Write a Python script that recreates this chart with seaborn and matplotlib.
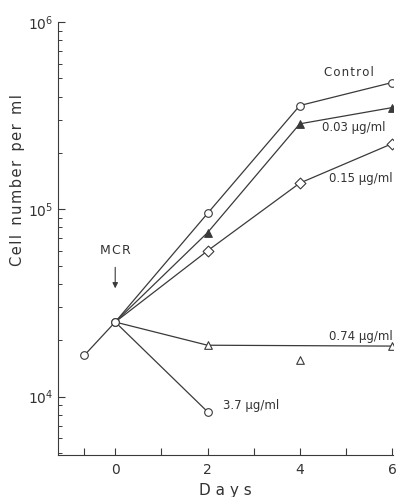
import matplotlib
matplotlib.use("Agg")
import matplotlib.pyplot as plt
import seaborn as sns
import numpy as np
import pandas as pd

# Data (days, cells per ml)
ctrl_days = [-0.67, 0, 2, 4, 6]
ctrl_vals = [16600, 25000, 95000, 358000, 475000]
d003_days = [0, 2, 4, 6]
d003_vals = [25000, 75000, 286000, 349000]
d015_days = [0, 2, 4, 6]
d015_vals = [25000, 60000, 138000, 224000]
d074_days = [0, 2, 6]
d074_vals = [25000, 18800, 18600]
d074_extra_days = [4]
d074_extra_vals = [15600]
d37_days = [0, 2]
d37_vals = [25000, 8300]

labels = ["Control", "0.03 μg/ml", "0.15 μg/ml", "0.74 μg/ml", "3.7 μg/ml"]

sns.set_style("ticks")
plt.rcParams['font.family'] = ['DejaVu Sans']

HAIR = "\u200a"
def spaced(s, gap=HAIR, word="  "):
    return word.join(gap.join(w) for w in s.split(" "))

fig = plt.figure(figsize=(4.01, 4.97), dpi=100)
ax = fig.add_axes([58/401, 1-455/497, 335/401, 433/497])

lc = "#3a3a3a"
lw = 0.9
ms = 5.5

def series(days, vals, marker, filled, skip_first=True):
    df = pd.DataFrame({"day": days, "cells": vals})
    sns.lineplot(data=df, x="day", y="cells", ax=ax, color=lc, linewidth=lw,
                 estimator=None, sort=False, legend=False)
    pts = df.iloc[1:] if skip_first else df
    sns.scatterplot(data=pts, x="day", y="cells", ax=ax, marker=marker, s=ms**2,
                    facecolor=(lc if filled else "white"), edgecolor=lc,
                    linewidth=0.8, zorder=5, legend=False)

series(ctrl_days, ctrl_vals, "o", False, skip_first=False)
series(d003_days, d003_vals, "^", True)
series(d015_days, d015_vals, "D", False)
series(d074_days, d074_vals, "^", False)
series(d37_days, d37_vals, "o", False)
sns.scatterplot(x=d074_extra_days, y=d074_extra_vals, ax=ax, marker="^", s=ms**2,
                facecolor="white", edgecolor=lc, linewidth=0.8, zorder=5, legend=False)
# redraw day-0 circle on top
sns.scatterplot(x=[0], y=[25000], ax=ax, marker="o", s=ms**2, facecolor="white",
                edgecolor=lc, linewidth=0.8, zorder=6, legend=False)

ax.set_yscale("log")
ax.set_xlim(-1.24, 6.02)
ax.set_ylim(4875, 1e6)
ax.set_xticks([-0.67, 0, 1, 2, 3, 4, 5, 6])
ax.set_xticklabels(["", "0", "", "2", "", "4", "", "6"])
ax.set_yticks([1e4, 1e5, 1e6])
ax.set_yticklabels([r"$10^4$", r"$10^5$", r"$10^6$"])
ax.tick_params(axis="both", which="major", direction="in", length=5, width=0.8,
               colors=lc, labelsize=10, labelcolor="#333333")
ax.tick_params(axis="y", which="minor", direction="in", length=3, width=0.7, colors=lc)
ax.tick_params(axis="x", pad=6)
for s in ["top", "right"]:
    ax.spines[s].set_visible(False)
for s in ["left", "bottom"]:
    ax.spines[s].set_color(lc)
    ax.spines[s].set_linewidth(0.8)

ax.set_xlabel(spaced("Days", gap=" "), fontsize=11, color="#333333", labelpad=4)
ax.set_ylabel(spaced("Cell number per ml"), fontsize=10.5, color="#333333")
ax.yaxis.set_label_coords(-0.098, 0.635)

tk = dict(fontsize=8.5, color="#333333", va="center", ha="left")
ax.text(4.53, 10**5.73, spaced(labels[0]), **tk)
ax.text(4.49, 10**5.435, labels[1], **tk)
ax.text(4.64, 10**5.167, labels[2], **tk)
ax.text(4.64, 10**4.323, labels[3], **tk)
ax.text(2.33, 10**3.952, labels[4], **tk)
ax.text(0, 10**4.78, spaced("MCR"), fontsize=9, color="#333333", ha="center", va="center")
ax.annotate("", xy=(0, 10**4.578), xytext=(0, 10**4.69),
            arrowprops=dict(arrowstyle="-|>", color=lc, lw=0.8, mutation_scale=8,
                            shrinkA=0, shrinkB=0))

fig.savefig("out.png", dpi=100, facecolor="white")
